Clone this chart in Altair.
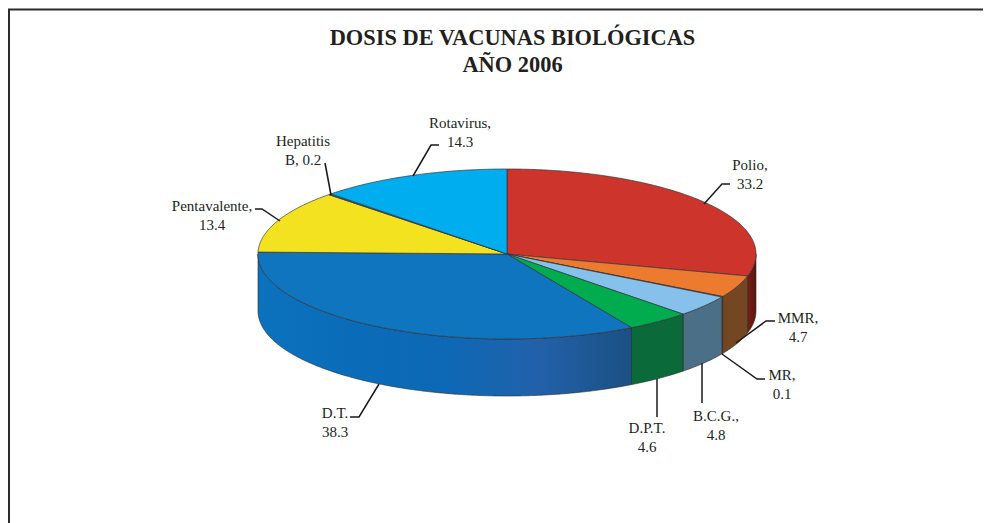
import math
import altair as alt
import pandas as pd

W, H = 975, 515
CX, CY, RX, RY, DEPTH = 499, 246, 249, 85, 57

names = ["Polio", "MMR", "MR", "B.C.G.", "D.P.T.", "D.T.", "Pentavalente", "Hepatitis B", "Rotavirus"]
values = [33.2, 4.7, 0.1, 4.8, 4.6, 38.3, 13.4, 0.2, 14.3]
# angular extent of each slice as drawn in the tilted picture (degrees, clockwise from 12 o'clock)
drawn_deg = [105.0, 15.0, 0.4, 14.6, 15.0, 121.3, 43.0, 0.7, 45.0]
top_colors = ["#cd352c", "#ec7b30", "#ec7b30", "#85c1ea", "#00ac4e", "#1075bf", "#f3e21f", "#555555", "#00aeef"]
side_stops = [
    ["#741f15", "#5c1610"],
    ["#744621", "#744621"],
    ["#744621", "#744621"],
    ["#4c6f88", "#4c6f88"],
    ["#0b6a3a", "#0b6a3a"],
    ["#0c72bd", "#0a6cb9", "#0d68b5", "#2261aa", "#1b5082"],
    ["#000000", "#000000"],
    ["#000000", "#000000"],
    ["#000000", "#000000"],
]
label_text = ["Polio,\n33.2", "MMR,\n4.7", "MR,\n0.1", "B.C.G.,\n4.8", "D.P.T.\n4.6", "D.T.\n38.3",
              "Pentavalente,\n13.4", "Hepatitis\nB, 0.2", "Rotavirus,\n14.3"]
label_px = [(750, 165), (798, 318), (782, 375), (716, 416), (647, 428), (335, 413), (212, 206), (303, 141), (460, 123)]
leader_px = [
    [(704, 204), (722, 184), (730, 184)],
    [(736, 343), (766, 321), (775, 321)],
    [(722, 354), (757, 379), (765, 379)],
    [(702, 363), (702, 403)],
    [(657, 379), (657, 417)],
    [(379, 384), (359, 417), (350, 417)],
    [(280, 221), (262, 209), (255, 209)],
    [(331, 195), (325, 163)],
    [(413, 176), (431, 145), (439, 145)],
]
title_lines = ["DOSIS DE VACUNAS BIOLÓGICAS", "AÑO 2006"]


def ux(px):
    return (px - 8 - CX) / RX


def uy(py):
    return (CY - (py - 8)) / RY


xs = alt.Scale(domain=[(0 - CX) / RX, (W - CX) / RX], nice=False, zero=False)
ys = alt.Scale(domain=[(CY - H) / RY, CY / RY], nice=False, zero=False)
X = alt.X("x:Q", scale=xs, axis=None)
Y = alt.Y("y:Q", scale=ys, axis=None)
d = DEPTH / RY

layers = []
frame_color = "#2b2b2b"
frame = pd.DataFrame({"a": [0]})
layers.append(alt.Chart(frame).mark_rule(color=frame_color, strokeWidth=2).encode(
    x=alt.value(0), x2=alt.value(W), y=alt.value(1.5)))
layers.append(alt.Chart(frame).mark_rule(color=frame_color, strokeWidth=2).encode(
    x=alt.value(1), y=alt.value(1), y2=alt.value(H)))

edges = [0.0]
for a in drawn_deg:
    edges.append(edges[-1] + a)

# side walls
for i, stops in enumerate(side_stops):
    a0, a1 = max(edges[i], 90.0), min(edges[i + 1], 270.0)
    if a1 <= a0:
        continue
    n = max(2, int((a1 - a0) * 2))
    rows = []
    for k in range(n + 1):
        t = math.radians(a0 + (a1 - a0) * k / n)
        rows.append({"x": math.sin(t), "y": math.cos(t), "y2": math.cos(t) - d})
    grad = alt.Gradient(
        gradient="linear", x1=0, x2=1, y1=0, y2=0,
        stops=[alt.GradientStop(offset=j / (len(stops) - 1), color=c) for j, c in enumerate(stops)],
    )
    layers.append(alt.Chart(pd.DataFrame(rows)).mark_area(
        color=grad, stroke="#2a2a2a", strokeWidth=0.6, opacity=1
    ).encode(x=X, y=Y, y2="y2:Q"))

# top faces
for i, col in enumerate(top_colors):
    a0, a1 = edges[i], edges[i + 1]
    n = max(2, int((a1 - a0) * 2))
    rows = [{"x": 0.0, "y": 0.0, "i": 0}]
    for k in range(n + 1):
        t = math.radians(a0 + (a1 - a0) * k / n)
        rows.append({"x": math.sin(t), "y": math.cos(t), "i": k + 1})
    rows.append({"x": 0.0, "y": 0.0, "i": n + 2})
    layers.append(alt.Chart(pd.DataFrame(rows)).mark_line(
        fill=col, stroke="#33333a", strokeWidth=0.7
    ).encode(x=X, y=Y, order="i:Q"))

# leader lines
rows = []
for i, pts in enumerate(leader_px):
    for j, (px, py) in enumerate(pts):
        rows.append({"x": ux(px), "y": uy(py), "g": names[i], "i": j})
layers.append(alt.Chart(pd.DataFrame(rows)).mark_line(color="#1a1a1a", strokeWidth=1.5).encode(
    x=X, y=Y, detail="g:N", order="i:Q"))

# labels
lab = pd.DataFrame({
    "x": [ux(p[0]) for p in label_px],
    "y": [uy(p[1]) for p in label_px],
    "t": label_text,
})
layers.append(alt.Chart(lab).mark_text(
    font="Liberation Serif", fontSize=15, color="#231f20", lineBreak="\n", lineHeight=18.5, align="center", baseline="middle"
).encode(x=X, y=Y, text="t:N"))

chart = alt.layer(*layers).properties(
    width=W, height=H, padding=0, autosize=alt.AutoSizeParams(type="none"),
    title=alt.TitleParams(
        text=title_lines, font="Liberation Serif", fontSize=22.4, fontWeight="bold", color="#231f20",
        anchor="middle", frame="group", dx=17, dy=72, lineHeight=27,
    ),
).configure_view(stroke=None)

chart.save("out.html", embed_options={"renderer": "svg", "actions": False})
